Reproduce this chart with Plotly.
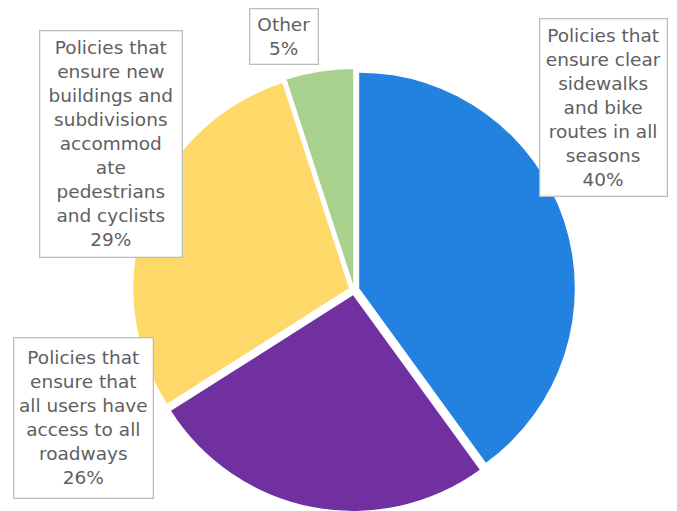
import plotly.graph_objects as go

W, H = 677, 511

categories = [
    "Policies that ensure clear sidewalks and bike routes in all seasons",
    "Policies that ensure that all users have access to all roadways",
    "Policies that ensure new buildings and subdivisions accommodate pedestrians and cyclists",
    "Other",
]
values = [40, 26, 29, 5]
colors = ["#2381E0", "#7030A0", "#FED868", "#A9D18E"]

label_lines = [
    ["Policies that", "ensure clear", "sidewalks", "and bike", "routes in all", "seasons"],
    ["Policies that", "ensure that", "all users have", "access to all", "roadways"],
    ["Policies that", "ensure new", "buildings and", "subdivisions", "accommod", "ate",
     "pedestrians", "and cyclists"],
    ["Other"],
]

# label boxes in pixels: left, top, right, bottom
boxes = [
    (540, 19, 667, 196),
    (14, 338, 153, 498),
    (40, 31, 182, 257),
    (250, 9, 318, 64),
]

fig = go.Figure(
    go.Pie(
        labels=categories,
        values=values,
        sort=False,
        direction="clockwise",
        rotation=0,
        pull=[0.025] * 4,
        marker=dict(colors=colors, line=dict(width=0)),
        textinfo="none",
        hoverinfo="label+percent",
        domain=dict(x=[0.123, 0.923], y=[0.0, 0.865]),
        showlegend=False,
    )
)

total = sum(values)
for lines, v, (l, t, r, b) in zip(label_lines, values, boxes):
    pct = round(100 * v / total)
    text = "<br>".join(lines + [f"{pct}%"])
    fig.add_annotation(
        text=text,
        xref="paper",
        yref="paper",
        x=(l + r) / 2 / W,
        y=1 - (t + b) / 2 / H,
        xanchor="center",
        yanchor="middle",
        showarrow=False,
        width=r - l - 1,
        height=b - t - 1,
        align="center",
        valign="middle",
        bgcolor="white",
        bordercolor="#BDBDBD",
        borderwidth=1.3,
        borderpad=0,
        font=dict(family="DejaVu Sans", size=18.5, color="#5F5F5F"),
    )

fig.update_layout(
    width=W,
    height=H,
    margin=dict(l=0, r=0, t=0, b=0),
    paper_bgcolor="white",
    plot_bgcolor="white",
)

fig.write_html(
    "out.html",
    config={"displayModeBar": False},
    post_script="document.body.style.margin='0';",
)
